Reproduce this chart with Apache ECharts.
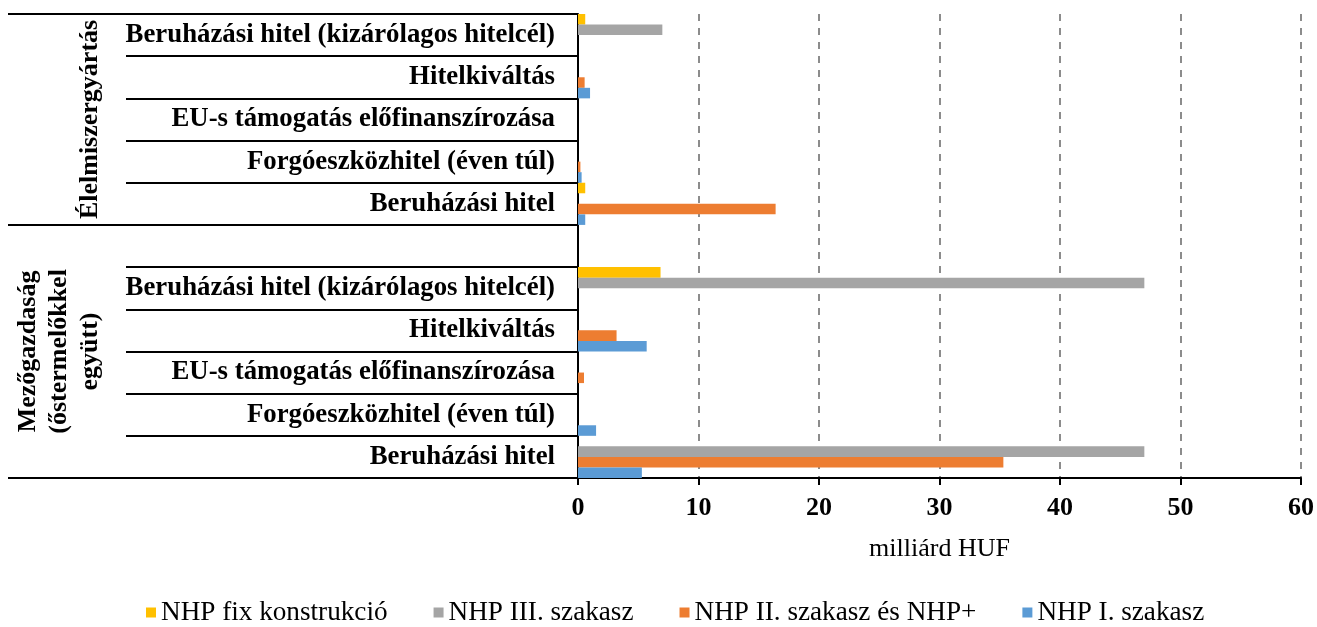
<!DOCTYPE html>
<html>
<head>
<meta charset="utf-8">
<title>NHP hitelek</title>
<script src="https://cdn.jsdelivr.net/npm/echarts@6/dist/echarts.min.js"></script>
<style>
  html, body { margin: 0; padding: 0; background: #fff; }
  #chart { width: 1317px; height: 627px; }
</style>
</head>
<body>
<div id="chart"></div>
<script>
// kategóriák alulról felfelé, az üres sor a két csoport közti rés
const categories = [
  'Beruházási hitel',
  'Forgóeszközhitel (éven túl)',
  'EU-s támogatás előfinanszírozása',
  'Hitelkiváltás',
  'Beruházási hitel (kizárólagos hitelcél)',
  '',
  'Beruházási hitel',
  'Forgóeszközhitel (éven túl)',
  'EU-s támogatás előfinanszírozása',
  'Hitelkiváltás',
  'Beruházási hitel (kizárólagos hitelcél)'
]

// főcsoportok: név, első és utolsó kategória indexe
const groupNames = ['Mezőgazdaság\n(őstermelőkkel\negyütt)', 'Élelmiszergyártás']
const groupFirst = [0, 6]
const groupLast = [5, 10]

const seriesNames = ['NHP fix konstrukció', 'NHP III. szakasz', 'NHP II. szakasz és NHP+', 'NHP I. szakasz']
const nhpFix = [0, 0, 0, 0, 6.85, 0, 0.6, 0, 0, 0, 0.6]
const nhpIII = [47.0, 0, 0, 0, 47.0, 0, 0, 0, 0, 0, 7.0]
const nhpII = [35.3, 0, 0.5, 3.2, 0, 0, 16.4, 0.2, 0, 0.55, 0]
const nhpI = [5.3, 1.5, 0, 5.7, 0, 0, 0.6, 0.3, 0, 1.0, 0]
const colors = ['#FFC000', '#A5A5A5', '#ED7D31', '#5B9BD5']

const xTicks = [0, 60, 10] // min, max, lépésköz

const serif = "'Liberation Serif', 'Times New Roman', serif"
const chart = echarts.init(document.getElementById('chart'))

const groupCenters = groupFirst.map((f, i) => (f + groupLast[i]) / 2)

const option = {
  animation: false,
  grid: { left: 578, right: 15, top: 14, bottom: 149, containLabel: false },
  legend: {
    data: seriesNames,
    bottom: -4,
    left: 141,
    icon: 'rect',
    itemWidth: 10,
    itemHeight: 10,
    itemGap: 46,
    textStyle: { fontFamily: serif, fontSize: 27.2, color: '#000' }
  },
  xAxis: {
    type: 'value',
    min: xTicks[0],
    max: xTicks[1],
    interval: xTicks[2],
    name: 'milliárd HUF',
    nameLocation: 'middle',
    nameGap: 58,
    nameTextStyle: { fontFamily: serif, fontSize: 26, color: '#000' },
    axisLine: { show: true, onZero: false, lineStyle: { color: '#000', width: 2 } },
    axisTick: { show: true, length: 7, lineStyle: { color: '#000', width: 2 } },
    axisLabel: { fontFamily: serif, fontSize: 26, fontWeight: 'bold', color: '#000', margin: 17 },
    splitLine: { show: true, lineStyle: { color: '#8c8c8c', width: 2, type: [7, 7] } }
  },
  yAxis: [
    {
      type: 'category',
      data: categories,
      position: 'left',
      axisLine: { show: true, lineStyle: { color: '#000', width: 2 } },
      axisTick: { show: true, length: 452, lineStyle: { color: '#000', width: 2 } },
      axisLabel: { fontFamily: serif, fontSize: 26.8, fontWeight: 'bold', color: '#000', margin: 23, interval: 0 },
      splitLine: { show: false }
    },
    {
      // csoporthatárok hosszú vonalai
      type: 'category',
      data: categories,
      position: 'left',
      axisLine: { show: false },
      axisTick: {
        show: true,
        length: 570,
        interval: (idx) => groupFirst.includes(idx),
        lineStyle: { color: '#000', width: 2 }
      },
      axisLabel: { show: false },
      splitLine: { show: false }
    },
    {
      // csoportnevek, elforgatva
      type: 'value',
      min: -0.5,
      max: categories.length - 0.5,
      interval: 0.5,
      position: 'left',
      axisLine: { show: false },
      axisTick: { show: false },
      splitLine: { show: false },
      axisLabel: {
        rotate: 90,
        margin: 472,
        fontFamily: serif,
        fontSize: 26,
        fontWeight: 'bold',
        lineHeight: 31,
        color: '#000',
        formatter: (v) => {
          const i = groupCenters.findIndex(c => Math.abs(c - v) < 0.01)
          return i >= 0 ? groupNames[i] : ''
        }
      }
    }
  ],
  series: [nhpFix, nhpIII, nhpII, nhpI].map((d, i) => ({
    name: seriesNames[i],
    type: 'bar',
    yAxisIndex: 0,
    data: d,
    barGap: '0%',
    barCategoryGap: '0%',
    itemStyle: { color: colors[i] }
  }))
}

chart.setOption(option)
</script>
</body>
</html>
